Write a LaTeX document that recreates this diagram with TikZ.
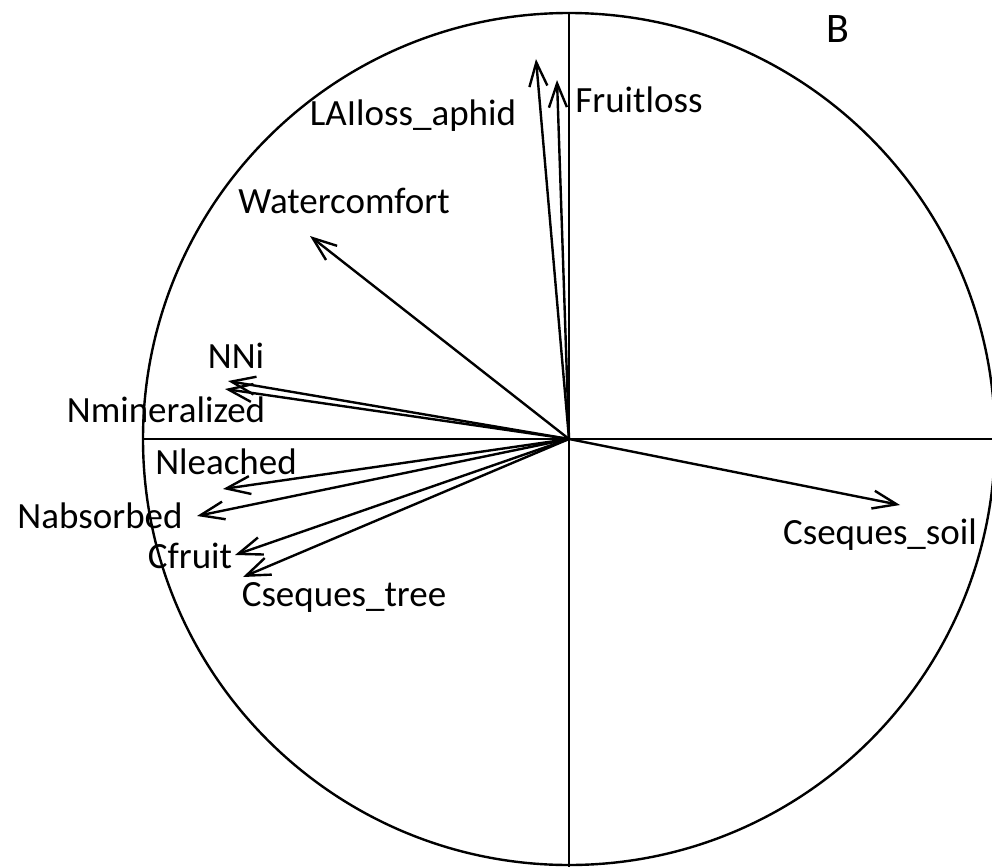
\documentclass[tikz,border=0pt]{standalone}
\usepackage{fontspec}
\setmainfont{Carlito}
\usetikzlibrary{arrows.meta}
\begin{document}
\begin{tikzpicture}[x=1pt,y=-1pt,
  vec/.style={line width=2.4pt,-{Straight Barb[length=24pt,width=18pt,line width=2.4pt]}},
  axis/.style={line width=2.4pt},
  lbl/.style={inner sep=0pt,font=\fontsize{37}{40}\selectfont}]
\useasboundingbox (0,0) rectangle (992,867);
\clip (0,0) rectangle (992,867);
\coordinate (o) at (569,439);
\draw[line width=2.4pt] (o) circle[radius=426pt];
\coordinate (top) at (569,12);
\coordinate (bot) at (569,867);
\coordinate (lft) at (143,439);
\coordinate (rgt) at (992,439);
\draw[axis] (top) -- (bot);
\draw[axis] (lft) -- (rgt);
% arrow tips
\coordinate (tFruit) at (557,80);
\coordinate (tLAI) at (536,59);
\coordinate (tWater) at (310,236);
\coordinate (tNNi) at (228,381);
\coordinate (tNmin) at (225,389);
\coordinate (tNleach) at (223,489);
\coordinate (tNabs) at (197,516);
\coordinate (tCfruit) at (235,555);
\coordinate (tCtree) at (243,577);
\coordinate (tCsoil) at (900,505);
\foreach \t in {tFruit,tLAI,tWater,tNNi,tNmin,tNleach,tNabs,tCfruit,tCtree,tCsoil}
  \draw[vec] (o) -- (\t);
% labels
\node[lbl,font=\fontsize{42}{46}\selectfont] (B) at (838,29) {B};
\node[lbl] (lFruit) at (639,100) {Fruitloss};
\node[lbl] (lLAI) at (413,116) {LAIloss\_aphid};
\node[lbl] (lWater) at (344,201) {Watercomfort};
\node[lbl] (lNNi) at (236,356) {NNi};
\node[lbl] (lNmin) at (166,410) {Nmineralized};
\node[lbl] (lNleach) at (226,462) {Nleached};
\node[lbl] (lNabs) at (100,516) {Nabsorbed};
\node[lbl] (lCfruit) at (190,556) {Cfruit};
\node[lbl] (lCtree) at (344,597) {Cseques\_tree};
\node[lbl] (lCsoil) at (880,535) {Cseques\_soil};
\end{tikzpicture}
\end{document}
